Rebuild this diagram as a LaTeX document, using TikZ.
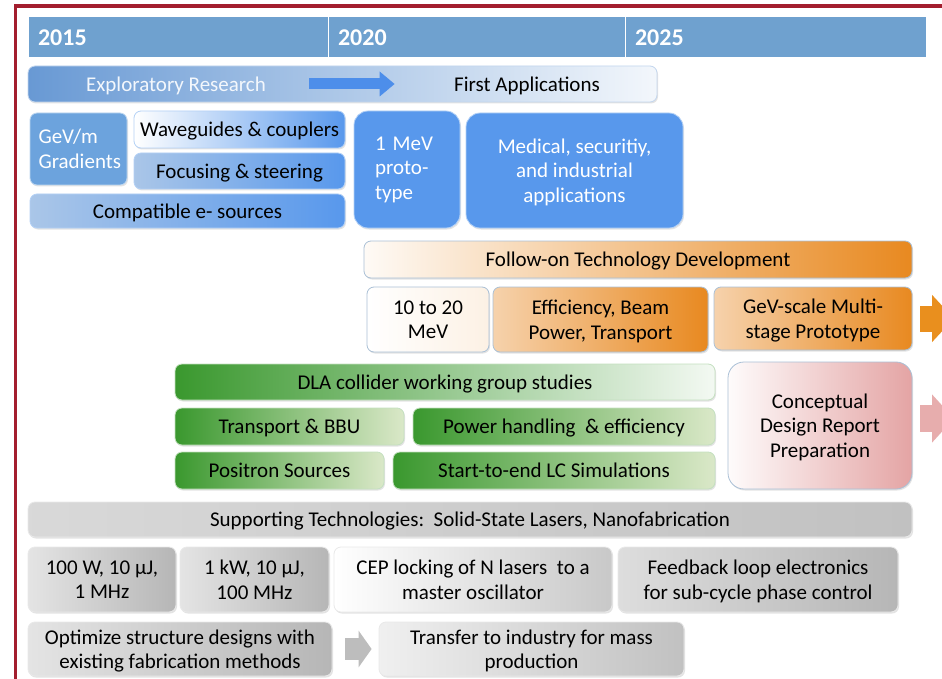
\documentclass[tikz,border=0pt]{standalone}
\usepackage{fontspec}
\setmainfont{Carlito}
\usetikzlibrary{arrows.meta, shadows}

\definecolor{framered}{RGB}{163,30,46}
\definecolor{yearblue}{RGB}{111,161,207}
\definecolor{barblue}{RGB}{104,153,212}
\definecolor{bluedeep}{RGB}{88,152,236}
\definecolor{bluepale}{RGB}{170,198,232}
\definecolor{bluesolid}{RGB}{108,163,221}
\definecolor{arrowblue}{RGB}{77,142,234}
\definecolor{edgeblue}{RGB}{170,192,214}
\definecolor{orangedeep}{RGB}{232,137,32}
\definecolor{orangepale}{RGB}{246,210,172}
\definecolor{greendeep}{RGB}{58,152,46}
\definecolor{greenpale}{RGB}{218,232,200}
\definecolor{pinkdeep}{RGB}{228,164,164}
\definecolor{greydeep}{RGB}{182,182,182}
\definecolor{greypale}{RGB}{228,228,228}

\begin{document}
\begin{tikzpicture}[
    x=1pt, y=-1pt,
    label text/.style={font=\fontsize{21}{24.5}\selectfont, text depth=0pt},
    box/.style={rectangle, rounded corners=7pt, line width=0.8pt, align=center, inner sep=2pt,
        text=black, label text,
        drop shadow={opacity=0.22, shadow xshift=1pt, shadow yshift=-1.5pt}},
    sz/.style 2 args={minimum width=#1, minimum height=#2},
    yearcell/.style={rectangle, fill=yearblue, draw=white, line width=1pt, minimum height=41,
        inner xsep=10pt, align=left, text=white, font=\fontsize{24}{26}\selectfont\bfseries},
    bluebox/.style={box, fill=bluedeep, draw=white!55!bluedeep, text=white},
    blueshade/.style={box, left color=#1, right color=bluedeep, draw=white!55!bluedeep},
    orangebox/.style={box, left color=#1, right color=orangedeep, draw=edgeblue},
    greenbox/.style={box, left color=greendeep, right color=#1, draw=white!70!greendeep},
    greybox/.style={box, left color=#1, right color=greydeep, draw=white!70!greydeep},
    fatarrow/.style 2 args={-{Triangle[length=#1, width=#2]}}
]
    \clip (0,0) rectangle (942,679);
    \fill[white] (0,0) rectangle (942,679);

    % Frame
    \draw[framered, line width=3.5pt] (15.5,679) -- (15.5,6) -- (942,6);

    % ========== Time axis ==========
    \node (yr2015) [yearcell, text width=280] at (178,37.5) {2015};
    \node (yr2020) [yearcell, text width=277] at (476.5,37.5) {2020};
    \node (yr2025) [yearcell, text width=281] at (775.5,37.5) {2025};

    % ========== Research -> applications ==========
    \node (explorebar) [box, sz={629}{36}, left color=barblue, right color=white!92!barblue,
        draw=white!60!barblue] at (342.5,84) {};
    \node (explore) [label text, text=white!92!barblue] at (176,84) {Exploratory Research};
    \node (firstapp) [label text] at (527,84) {First Applications};
    \draw[fatarrow={15pt}{24pt}, line width=11pt, arrowblue, shorten <=40pt, shorten >=56pt]
        (explore) -- (firstapp);

    \node (gevm) [box, sz={97}{72}, fill=bluesolid, draw=white!55!bluesolid, text=white,
        text width=80, align=left, text depth={}] at (78.5,149) {GeV/m\\Gradients};
    \node (waveg) [blueshade=white, sz={211}{37}] at (239.5,129.5) {Waveguides \& couplers};
    \node (focus) [blueshade=bluepale, sz={211}{36}] at (239.5,171) {Focusing \& steering};
    \node (compat) [blueshade=bluepale, sz={315}{34}] at (187.5,211) {Compatible e- sources};
    \node (onemev) [bluebox, sz={106}{117}, rounded corners=14pt, text width=64, align=left,
        text depth={}] at (407,169.5) {1 MeV\\proto-\\type};
    \node (medical) [bluebox, sz={217}{115}, rounded corners=14pt] at (574.5,170.5)
        {Medical, securitiy,\\and industrial\\applications};

    % ========== Follow-on development ==========
    \node (followon) [orangebox=white!96!orangedeep, sz={548}{37}] at (638,259.5)
        {Follow-on Technology Development};
    \node (tentwenty) [orangebox=white, right color=white!88!orangedeep, sz={122}{65}]
        at (428,319.5) {10 to 20\\MeV};
    \node (efficiency) [orangebox=orangepale, sz={215}{65}] at (600.5,319.5)
        {Efficiency, Beam\\Power, Transport};
    \node (gevstage) [orangebox=orangepale, sz={198}{63}] at (813,318.5)
        {GeV-scale Multi-\\stage Prototype};
    \coordinate (orangeend) at (954,318.5);
    \draw[fatarrow={22pt}{46pt}, line width=26pt, orangedeep!95!yellow, shorten <=8pt]
        (gevstage) -- (orangeend);

    % ========== Collider studies ==========
    \node (dla) [greenbox=white!94!greendeep, sz={540}{36}] at (445,382)
        {DLA collider working group studies};
    \node (bbu) [greenbox=greenpale, sz={229}{37}] at (289.5,426.5) {Transport \& BBU};
    \node (power) [greenbox=greenpale, sz={302}{37}] at (564,426.5) {Power handling\ \ \& efficiency};
    \node (positron) [greenbox=greenpale, sz={209}{37}] at (279.5,470.5) {Positron Sources};
    \node (startend) [greenbox=greenpale, sz={322}{37}] at (554,470.5) {Start-to-end LC Simulations};
    \node (cdr) [box, sz={184}{127}, rounded corners=16pt, left color=white!96!pinkdeep,
        right color=pinkdeep, draw=edgeblue] at (820,425.5)
        {Conceptual\\Design Report\\Preparation};
    \coordinate (pinkend) at (954,418.5);
    \draw[fatarrow={22pt}{47pt}, line width=27pt, pinkdeep!90!white, shorten <=8pt]
        (cdr.east |- pinkend) -- (pinkend);

    % ========== Supporting technologies ==========
    \node (support) [box, sz={884}{35}, left color=greypale!95!black, right color=greydeep!85!white,
        draw=white!70!greydeep] at (470,519.5)
        {Supporting Technologies:\ \ Solid-State Lasers, Nanofabrication};
    \node (laser1) [greybox=greypale, sz={148}{65}] at (102,579.5) {100 W, 10 µJ,\\1 MHz};
    \node (laser2) [greybox=greypale, sz={149}{65}] at (254.5,579.5) {1 kW, 10 µJ,\\100 MHz};
    \node (ceplock) [greybox=white, right color=greydeep!75!white, sz={278}{65}] at (473,579.5)
        {CEP locking of N lasers\ \ to a\\master oscillator};
    \node (feedback) [greybox=greypale!85!greydeep, sz={280}{65}] at (758,579.5)
        {Feedback loop electronics\\for sub-cycle phase control};
    \node (optimize) [greybox=greypale, sz={304}{54}] at (180,649)
        {Optimize structure designs with\\existing fabrication methods};
    \node (transfer) [greybox=white!94!black, right color=greydeep!85!white, sz={305}{54}] at (531.5,649)
        {Transfer to industry for mass\\production};
    \draw[fatarrow={13pt}{36pt}, line width=22pt, greydeep!90!white, shorten <=13pt, shorten >=7pt]
        (optimize) -- (transfer);
\end{tikzpicture}
\end{document}
